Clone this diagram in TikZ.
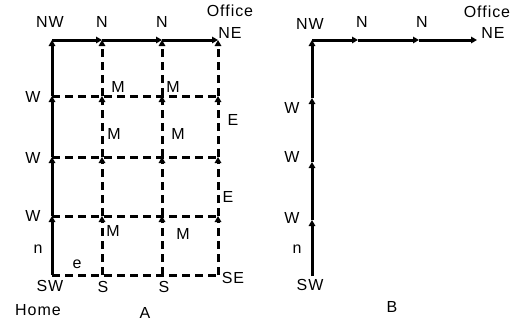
\documentclass[tikz,border=0pt]{standalone}
\usepackage{fontspec}
\setmainfont{Liberation Sans}[LetterSpace=6]
\usetikzlibrary{arrows.meta}
\tikzset{>={Triangle[length=6pt,width=6.5pt]}}
\tikzset{
  road/.style={line width=3pt,->},
  street/.style={line width=3pt,dash pattern=on 8pt off 5pt},
  streetarr/.style={street,->},
  lbl/.style={inner sep=0pt,font=\fontsize{16}{19}\selectfont}
}

\begin{document}
\begin{tikzpicture}[x=1pt,y=-1pt]
  \useasboundingbox (0,0) rectangle (515,324);

  % grid A
  \coordinate (aSW) at (52,275);
  \coordinate (aW1) at (52,216);
  \coordinate (aW2) at (52,157);
  \coordinate (aW3) at (52,96);
  \coordinate (aNW) at (52,40);
  \coordinate (aN1) at (102,40);
  \coordinate (aN2) at (162,40);
  \coordinate (aNE) at (218,40);

  % grid B
  \coordinate (bSW) at (312,276);
  \coordinate (bW1) at (312,220);
  \coordinate (bW2) at (312,162);
  \coordinate (bW3) at (312,98);
  \coordinate (bNW) at (312,40);
  \coordinate (bN1) at (358,40);
  \coordinate (bN2) at (419,40);
  \coordinate (bNE) at (477,40);

  % dashed streets of A
  \foreach \y in {96,157,216,275}
    \draw[street] (52,\y) -- (218,\y);
  \foreach \x in {102,162,218}{
    \draw[streetarr] (\x,275) -- (\x,216);
    \draw[streetarr] (\x,216) -- (\x,157);
    \draw[streetarr] (\x,157) -- (\x,96);
    \draw[streetarr] (\x,96) -- (\x,40);
  }

  % solid route of A
  \draw[road] (aSW) -- (aW1);
  \draw[road] (aW1) -- (aW2);
  \draw[road] (aW2) -- (aW3);
  \draw[road] (aW3) -- (aNW);
  \draw[road] (aNW) -- (aN1);
  \draw[road] (aN1) -- (aN2);
  \draw[road] (aN2) -- (aNE);

  % solid route of B
  \draw[road] (bSW) -- (bW1);
  \draw[road] (bW1) -- (bW2);
  \draw[road] (bW2) -- (bW3);
  \draw[road] (bW3) -- (bNW);
  \draw[road] (bNW) -- (bN1);
  \draw[road] (bN1) -- (bN2);
  \draw[road] (bN2) -- (bNE);

  % labels of A
  \node[lbl] (aNWl) at (50,22) {NW};
  \node[lbl] (aN1l) at (102,22) {N};
  \node[lbl] (aN2l) at (162,22) {N};
  \node[lbl] (aOff) at (230,11) {Office};
  \node[lbl] (aNEl) at (230,33) {NE};
  \node[lbl] (aW1l) at (33,216) {W};
  \node[lbl] (aW2l) at (33,158) {W};
  \node[lbl] (aW3l) at (33,97) {W};
  \node[lbl] (aM1) at (118,87) {M};
  \node[lbl] (aM2) at (173,87) {M};
  \node[lbl] (aM3) at (114,134) {M};
  \node[lbl] (aM4) at (178,134) {M};
  \node[lbl] (aM5) at (113,231) {M};
  \node[lbl] (aM6) at (183,234) {M};
  \node[lbl] (aE1l) at (233,120) {E};
  \node[lbl] (aE2l) at (228,197) {E};
  \node[lbl] (an) at (38,249) {n};
  \node[lbl] (ae) at (77,264) {e};
  \node[lbl] (aSWl) at (50,286) {SW};
  \node[lbl] (aS1l) at (103,287) {S};
  \node[lbl] (aS2l) at (164,287) {S};
  \node[lbl] (aSEl) at (233,278) {SE};
  \node[lbl] (home) at (38,310) {Home};
  \node[lbl] (capA) at (145,313) {A};

  % labels of B
  \node[lbl] (bNWl) at (310,24) {NW};
  \node[lbl] (bN1l) at (362,22) {N};
  \node[lbl] (bN2l) at (422,22) {N};
  \node[lbl] (bOff) at (487,12) {Office};
  \node[lbl] (bNEl) at (493,33) {NE};
  \node[lbl] (bW1l) at (292,218) {W};
  \node[lbl] (bW2l) at (292,157) {W};
  \node[lbl] (bW3l) at (292,108) {W};
  \node[lbl] (bn) at (297,249) {n};
  \node[lbl] (bSWl) at (310,285) {SW};
  \node[lbl] (capB) at (392,307) {B};
\end{tikzpicture}
\end{document}
